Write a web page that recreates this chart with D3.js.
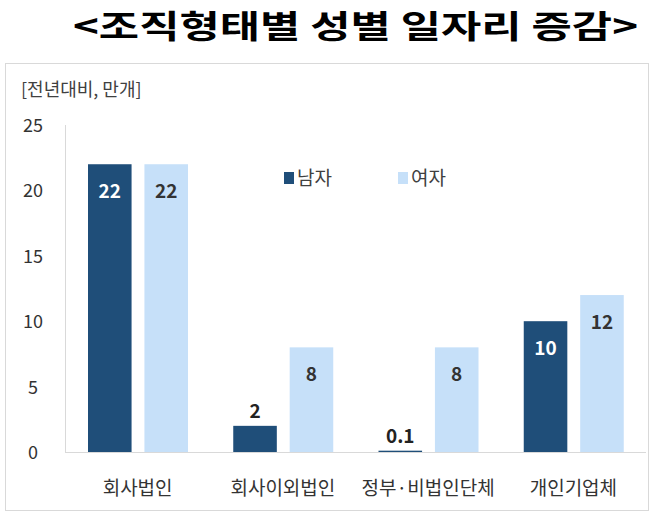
<!DOCTYPE html>
<html>
<head>
<meta charset="utf-8">
<script src="https://cdn.jsdelivr.net/npm/d3@7"></script>
<style>
  body { margin: 0; background: #fff; }
  text { font-family: "Noto Sans CJK KR", "Noto Sans", sans-serif; }
</style>
</head>
<body>
<div id="chart"></div>
<script>
const categories = ["회사법인", "회사이외법인", "정부·비법인단체", "개인기업체"];
const seriesNames = ["남자", "여자"];
const maleValues = [22, 2, 0.1, 10];
const femaleValues = [22, 8, 8, 12];
const yTicks = [0, 5, 10, 15, 20, 25];

const colors = {"남자": "#1f4e79", "여자": "#c6e0f9"};

var svg = d3.select("#chart").append("svg")
    .attr("width", 655)
    .attr("height", 516);

// title, glyphs stretched to the wide look of the picture
svg.append("text")
    .attr("x", 73)
    .attr("y", 38)
    .attr("textLength", 565)
    .attr("lengthAdjust", "spacingAndGlyphs")
    .style("font-size", "32px")
    .style("font-weight", "bold")
    .attr("fill", "#000")
    .text("<조직형태별 성별 일자리 증감>");

// chart frame
svg.append("rect")
    .attr("x", 5.5).attr("y", 63.5)
    .attr("width", 643).attr("height", 447)
    .attr("fill", "none")
    .attr("stroke", "#d9d9d9");

svg.append("text")
    .attr("x", 21)
    .attr("y", 96)
    .style("font-size", "18px")
    .attr("fill", "#404040")
    .text("[전년대비, 만개]");

var x = d3.scaleBand().domain(categories).range([65, 646]);
var xs = d3.scaleBand().domain(seriesNames).range([23, 123]).paddingInner(0.228);
var y = d3.scaleLinear().domain([0, 25]).range([452, 125]);

// y axis line + labels
svg.append("line")
    .attr("x1", 65.5).attr("x2", 65.5)
    .attr("y1", y(25)).attr("y2", y(0))
    .attr("stroke", "#d9d9d9");

svg.selectAll(".ytick")
  .data(yTicks)
  .enter().append("text")
    .attr("class", "ytick")
    .attr("x", 33)
    .attr("y", d => y(d) + 7)
    .attr("text-anchor", "middle")
    .style("font-size", "18px")
    .attr("fill", "#333")
    .text(d => d);

var rows = categories.map(function(c, i) {
  return [
    {cat: c, key: "남자", value: maleValues[i]},
    {cat: c, key: "여자", value: femaleValues[i]}
  ];
});
var flat = rows.flat();

svg.selectAll(".bar")
  .data(flat)
  .enter().append("rect")
    .attr("class", "bar")
    .attr("x", d => x(d.cat) + xs(d.key))
    .attr("width", xs.bandwidth())
    .attr("y", d => y(d.value))
    .attr("height", d => y(0) - y(d.value))
    .attr("fill", d => colors[d.key]);

// baseline
svg.append("line")
    .attr("x1", 65).attr("x2", 646)
    .attr("y1", y(0) + 0.5).attr("y2", y(0) + 0.5)
    .attr("stroke", "#d9d9d9");

// value labels: inside near top when bar is tall, above otherwise
svg.selectAll(".val")
  .data(flat)
  .enter().append("text")
    .attr("class", "val")
    .attr("x", d => x(d.cat) + xs(d.key) + xs.bandwidth() / 2)
    .attr("y", function(d) {
      return d.value > 4 ? y(d.value) + 34 : y(d.value) - 8;
    })
    .attr("text-anchor", "middle")
    .style("font-size", "19px")
    .style("font-weight", "bold")
    .attr("fill", function(d) {
      if (d.value <= 4) return "#222";
      return d.key == "남자" ? "#fff" : "#333";
    })
    .text(d => d.value);

// category labels
svg.selectAll(".cat")
  .data(categories)
  .enter().append("text")
    .attr("class", "cat")
    .attr("x", d => x(d) + x.bandwidth() / 2)
    .attr("y", 495)
    .attr("text-anchor", "middle")
    .style("font-size", "19px")
    .attr("fill", "#333")
    .text(d => d);

// legend
var legend = svg.selectAll(".legend")
  .data(seriesNames)
  .enter().append("g")
    .attr("class", "legend")
    .attr("transform", (d, i) => "translate(" + (284 + i * 114) + ",172)");

legend.append("rect")
    .attr("width", 10).attr("height", 12)
    .attr("fill", d => colors[d]);

legend.append("text")
    .attr("x", 13)
    .attr("y", 13)
    .style("font-size", "19px")
    .attr("fill", "#404040")
    .text(d => d);
</script>
</body>
</html>
